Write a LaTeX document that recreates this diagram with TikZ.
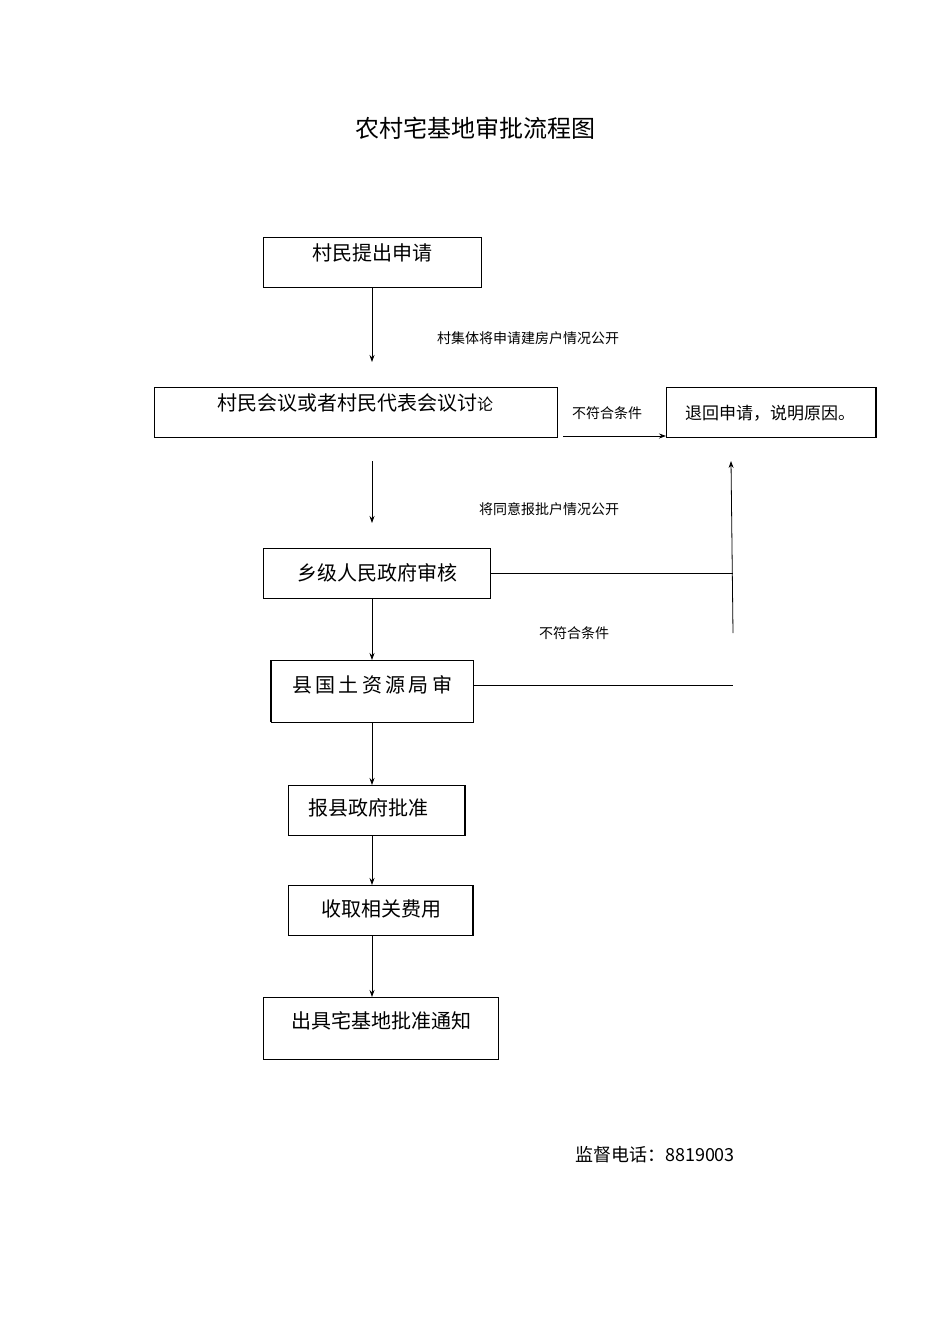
\documentclass[tikz,border=0pt]{standalone}
\usepackage{fontspec}
\setmainfont{Noto Sans CJK SC}
\usetikzlibrary{arrows.meta}
\begin{document}
\begin{tikzpicture}[x=1pt,y=-1pt,
  bx/.style={draw,line width=0.8pt,inner sep=0pt},
  big/.style={font=\fontsize{20}{24}\selectfont},
  small/.style={font=\fontsize{14}{17}\selectfont},
  arr/.style={-{Stealth[length=7pt,width=5pt]},line width=0.8pt},
  ln/.style={line width=0.8pt}]
\useasboundingbox (0,0) rectangle (950,1344);
\node[font=\fontsize{24}{28}\selectfont] (title) at (475,128) {农村宅基地审批流程图};
\draw[bx] (263,237) rectangle (481,287);
\node[big] (b1) at (372,253) {村民提出申请};
\draw[bx] (154,387) rectangle (557,437);
\node[big] (b2) at (355,403) {村民会议或者村民代表会议讨{\fontsize{16}{18}\selectfont 论}};
\draw[bx] (666,387) rectangle (876,437);
\draw[line width=2pt] (876,387)--(876,437);
\node[big,font=\fontsize{17}{20}\selectfont] (b3) at (770,413) {退回申请，说明原因。};
\draw[bx] (263,548) rectangle (490,598);
\node[big] (b4) at (377,573) {乡级人民政府审核};
\draw[bx] (271,660) rectangle (473,722);
\draw[line width=2pt] (271,660)--(271,722);
\node[big] (b5) at (372,685) {县\,国\,土\,资\,源\,局\,审};
\draw[bx] (288,785) rectangle (465,835);
\draw[line width=2pt] (465,785)--(465,835);
\node[big] (b6) at (368,808) {报县政府批准};
\draw[bx] (288,885) rectangle (473,935);
\draw[line width=2pt] (473,885)--(473,935);
\node[big] (b7) at (381,909) {收取相关费用};
\draw[bx] (263,997) rectangle (498,1059);
\node[big] (b8) at (381,1021) {出具宅基地批准通知};
\coordinate (a1) at (372,287); \coordinate (a2) at (372,362);
\draw[arr] (a1)--(a2);
\node[small] (l1) at (528,338) {村集体将申请建房户情况公开};
\coordinate (c1) at (563,436); \coordinate (c2) at (666,436);
\draw[arr] (c1)--(c2);
\node[small] (l2) at (607,413) {不符合条件};
\coordinate (a3) at (372,461); \coordinate (a4) at (372,523);
\draw[arr] (a3)--(a4);
\node[small] (l3) at (549,509) {将同意报批户情况公开};
\coordinate (r1) at (490,573); \coordinate (r2) at (733,573);
\draw[ln] (r1)--(r2);
\coordinate (u1) at (733,633); \coordinate (u2) at (731,461);
\draw[arr] (u1)--(u2);
\node[small] (l4) at (574,633) {不符合条件};
\coordinate (a5) at (372,598); \coordinate (a6) at (372,660);
\draw[arr] (a5)--(a6);
\coordinate (r3) at (473,685); \coordinate (r4) at (733,685);
\draw[ln] (r3)--(r4);
\coordinate (a7) at (372,722); \coordinate (a8) at (372,785);
\draw[arr] (a7)--(a8);
\coordinate (a9) at (372,835); \coordinate (a10) at (372,885);
\draw[arr] (a9)--(a10);
\coordinate (a11) at (372,935); \coordinate (a12) at (372,997);
\draw[arr] (a11)--(a12);
\node[font=\fontsize{18}{22}\selectfont] (tel) at (655,1155) {监督电话：8819003};
\end{tikzpicture}
\end{document}
